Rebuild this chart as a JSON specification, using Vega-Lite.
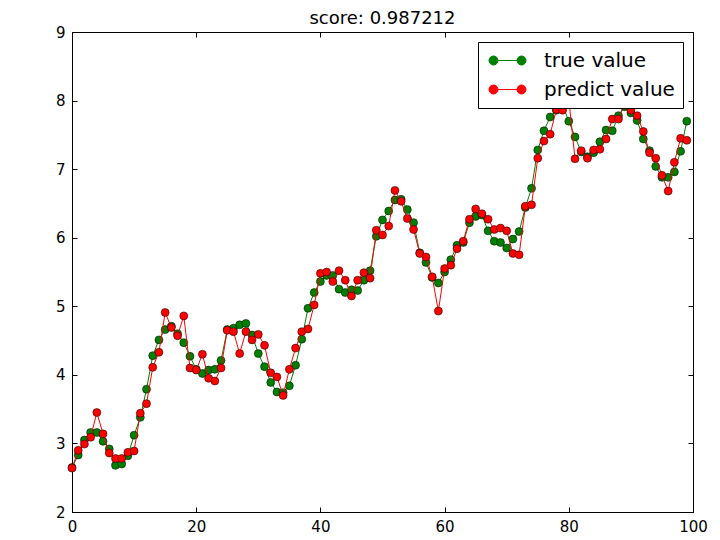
{
  "$schema": "https://vega.github.io/schema/vega-lite/v6.json",
  "autosize": "none",
  "width": 621,
  "height": 480,
  "padding": {"left": 72, "top": 32, "right": 27, "bottom": 28},
  "background": "white",
  "title": {"text": "score: 0.987212", "fontSize": 18, "font": "DejaVu Sans", "fontWeight": "normal", "color": "black", "offset": -3},
  "data": {"values": [
    {"x":0,"true value":2.65,"predict value":2.64},
    {"x":1,"true value":2.83,"predict value":2.90},
    {"x":2,"true value":3.05,"predict value":2.99},
    {"x":3,"true value":3.16,"predict value":3.09},
    {"x":4,"true value":3.16,"predict value":3.45},
    {"x":5,"true value":3.03,"predict value":3.14},
    {"x":6,"true value":2.92,"predict value":2.86},
    {"x":7,"true value":2.68,"predict value":2.78},
    {"x":8,"true value":2.70,"predict value":2.78},
    {"x":9,"true value":2.82,"predict value":2.87},
    {"x":10,"true value":3.12,"predict value":2.89},
    {"x":11,"true value":3.38,"predict value":3.44},
    {"x":12,"true value":3.79,"predict value":3.58},
    {"x":13,"true value":4.28,"predict value":4.11},
    {"x":14,"true value":4.51,"predict value":4.33},
    {"x":15,"true value":4.66,"predict value":4.91},
    {"x":16,"true value":4.71,"predict value":4.69},
    {"x":17,"true value":4.60,"predict value":4.57},
    {"x":18,"true value":4.47,"predict value":4.86},
    {"x":19,"true value":4.27,"predict value":4.10},
    {"x":20,"true value":4.08,"predict value":4.07},
    {"x":21,"true value":4.02,"predict value":4.30},
    {"x":22,"true value":4.07,"predict value":3.95},
    {"x":23,"true value":4.08,"predict value":3.91},
    {"x":24,"true value":4.21,"predict value":4.10},
    {"x":25,"true value":4.66,"predict value":4.65},
    {"x":26,"true value":4.68,"predict value":4.63},
    {"x":27,"true value":4.73,"predict value":4.31},
    {"x":28,"true value":4.75,"predict value":4.63},
    {"x":29,"true value":4.58,"predict value":4.51},
    {"x":30,"true value":4.31,"predict value":4.59},
    {"x":31,"true value":4.12,"predict value":4.43},
    {"x":32,"true value":3.89,"predict value":4.03},
    {"x":33,"true value":3.75,"predict value":3.97},
    {"x":34,"true value":3.74,"predict value":3.70},
    {"x":35,"true value":3.84,"predict value":4.08},
    {"x":36,"true value":4.14,"predict value":4.39},
    {"x":37,"true value":4.52,"predict value":4.63},
    {"x":38,"true value":4.97,"predict value":4.67},
    {"x":39,"true value":5.20,"predict value":5.02},
    {"x":40,"true value":5.36,"predict value":5.48},
    {"x":41,"true value":5.45,"predict value":5.50},
    {"x":42,"true value":5.45,"predict value":5.36},
    {"x":43,"true value":5.25,"predict value":5.52},
    {"x":44,"true value":5.20,"predict value":5.38},
    {"x":45,"true value":5.24,"predict value":5.15},
    {"x":46,"true value":5.23,"predict value":5.38},
    {"x":47,"true value":5.38,"predict value":5.49},
    {"x":48,"true value":5.52,"predict value":5.41},
    {"x":49,"true value":6.02,"predict value":6.11},
    {"x":50,"true value":6.26,"predict value":6.04},
    {"x":51,"true value":6.39,"predict value":6.17},
    {"x":52,"true value":6.55,"predict value":6.69},
    {"x":53,"true value":6.56,"predict value":6.53},
    {"x":54,"true value":6.41,"predict value":6.28},
    {"x":55,"true value":6.22,"predict value":6.12},
    {"x":56,"true value":5.78,"predict value":5.77},
    {"x":57,"true value":5.64,"predict value":5.72},
    {"x":58,"true value":5.42,"predict value":5.43},
    {"x":59,"true value":5.34,"predict value":4.93},
    {"x":60,"true value":5.50,"predict value":5.55},
    {"x":61,"true value":5.68,"predict value":5.60},
    {"x":62,"true value":5.89,"predict value":5.84},
    {"x":63,"true value":5.93,"predict value":5.95},
    {"x":64,"true value":6.22,"predict value":6.27},
    {"x":65,"true value":6.31,"predict value":6.42},
    {"x":66,"true value":6.33,"predict value":6.35},
    {"x":67,"true value":6.10,"predict value":6.27},
    {"x":68,"true value":5.95,"predict value":6.12},
    {"x":69,"true value":5.93,"predict value":6.14},
    {"x":70,"true value":5.85,"predict value":6.10},
    {"x":71,"true value":5.98,"predict value":5.77},
    {"x":72,"true value":6.09,"predict value":5.75},
    {"x":73,"true value":6.44,"predict value":6.46},
    {"x":74,"true value":6.72,"predict value":6.48},
    {"x":75,"true value":7.28,"predict value":7.16},
    {"x":76,"true value":7.56,"predict value":7.41},
    {"x":77,"true value":7.76,"predict value":7.51},
    {"x":78,"true value":7.86,"predict value":7.87},
    {"x":79,"true value":7.93,"predict value":7.86},
    {"x":80,"true value":7.70,"predict value":8.02},
    {"x":81,"true value":7.47,"predict value":7.15},
    {"x":82,"true value":7.25,"predict value":7.27},
    {"x":83,"true value":7.18,"predict value":7.16},
    {"x":84,"true value":7.24,"predict value":7.28},
    {"x":85,"true value":7.40,"predict value":7.29},
    {"x":86,"true value":7.57,"predict value":7.44},
    {"x":87,"true value":7.56,"predict value":7.73},
    {"x":88,"true value":7.78,"predict value":7.73},
    {"x":89,"true value":7.91,"predict value":7.97},
    {"x":90,"true value":7.82,"predict value":7.86},
    {"x":91,"true value":7.71,"predict value":7.78},
    {"x":92,"true value":7.44,"predict value":7.55},
    {"x":93,"true value":7.27,"predict value":7.24},
    {"x":94,"true value":7.04,"predict value":7.16},
    {"x":95,"true value":6.88,"predict value":6.91},
    {"x":96,"true value":6.88,"predict value":6.68},
    {"x":97,"true value":6.96,"predict value":7.10},
    {"x":98,"true value":7.26,"predict value":7.45},
    {"x":99,"true value":7.70,"predict value":7.42}
  ]},
  "transform": [{"fold": ["true value", "predict value"], "as": ["series", "value"]}],
  "encoding": {
    "x": {"field": "x", "type": "quantitative", "title": null, "scale": {"domain": [0, 100], "nice": false}},
    "y": {"field": "value", "type": "quantitative", "title": null, "scale": {"domain": [2, 9], "nice": false, "zero": false}},
    "color": {
      "field": "series", "type": "nominal",
      "scale": {"domain": ["true value", "predict value"], "range": ["#008000", "#ff0000"]},
      "legend": {
        "title": null,
        "orient": "top-right",
        "offset": 10,
        "padding": 8,
        "strokeColor": "black",
        "fillColor": "white",
        "cornerRadius": 0,
        "labelFont": "DejaVu Sans",
        "labelFontSize": 20,
        "labelColor": "black",
        "labelOffset": 26,
        "rowPadding": 8,
        "symbolSize": 400,
        "symbolOffset": 11,
        "symbolStrokeWidth": 1,
        "symbolType": "M-1.4,0H1.4M-1.85,0A0.45,0.45,0,1,0,-0.95,0A0.45,0.45,0,1,0,-1.85,0ZM0.95,0A0.45,0.45,0,1,0,1.85,0A0.45,0.45,0,1,0,0.95,0Z",
        "encode": {"symbols": {"update": {"fill": {"scale": "color", "field": "value"}, "stroke": {"scale": "color", "field": "value"}, "strokeWidth": {"value": 1}, "opacity": {"value": 1}}}}
      }
    }
  },
  "layer": [
    {
      "transform": [{"filter": {"field": "series", "equal": "true value"}}],
      "mark": {"type": "line", "strokeWidth": 1},
      "encoding": {
        "x": {"field": "x", "type": "quantitative", "title": null, "axis": {"orient": "bottom", "values": [0, 20, 40, 60, 80, 100], "format": "d", "labelFlush": false}},
        "y": {"field": "value", "type": "quantitative", "title": null, "axis": {"orient": "left", "values": [2, 3, 4, 5, 6, 7, 8, 9], "format": "d", "labelFlush": false}}
      }
    },
    {
      "transform": [{"filter": {"field": "series", "equal": "true value"}}],
      "mark": {"type": "point", "filled": true, "size": 64, "opacity": 1, "stroke": "black", "strokeWidth": 0.5},
      "encoding": {
        "x": {"field": "x", "type": "quantitative", "title": null, "axis": {"orient": "top", "labels": false, "values": [0, 20, 40, 60, 80, 100]}},
        "y": {"field": "value", "type": "quantitative", "title": null, "axis": {"orient": "right", "labels": false, "values": [2, 3, 4, 5, 6, 7, 8, 9]}}
      }
    },
    {
      "transform": [{"filter": {"field": "series", "equal": "predict value"}}],
      "mark": {"type": "line", "strokeWidth": 1},
      "encoding": {
        "x": {"field": "x", "type": "quantitative", "title": null, "axis": null},
        "y": {"field": "value", "type": "quantitative", "title": null, "axis": null}
      }
    },
    {
      "transform": [{"filter": {"field": "series", "equal": "predict value"}}],
      "mark": {"type": "point", "filled": true, "size": 64, "opacity": 1, "stroke": "black", "strokeWidth": 0.5},
      "encoding": {
        "x": {"field": "x", "type": "quantitative", "title": null, "axis": null},
        "y": {"field": "value", "type": "quantitative", "title": null, "axis": null}
      }
    }
  ],
  "resolve": {"axis": {"x": "independent", "y": "independent"}},
  "config": {
    "view": {"stroke": "black", "strokeWidth": 1},
    "axis": {
      "grid": false,
      "domainColor": "black",
      "domainWidth": 1,
      "tickColor": "black",
      "tickSize": -5,
      "labelPadding": 12,
      "labelFlush": false,
      "labelFont": "DejaVu Sans",
      "labelFontSize": 15,
      "labelColor": "black"
    }
  }
}
